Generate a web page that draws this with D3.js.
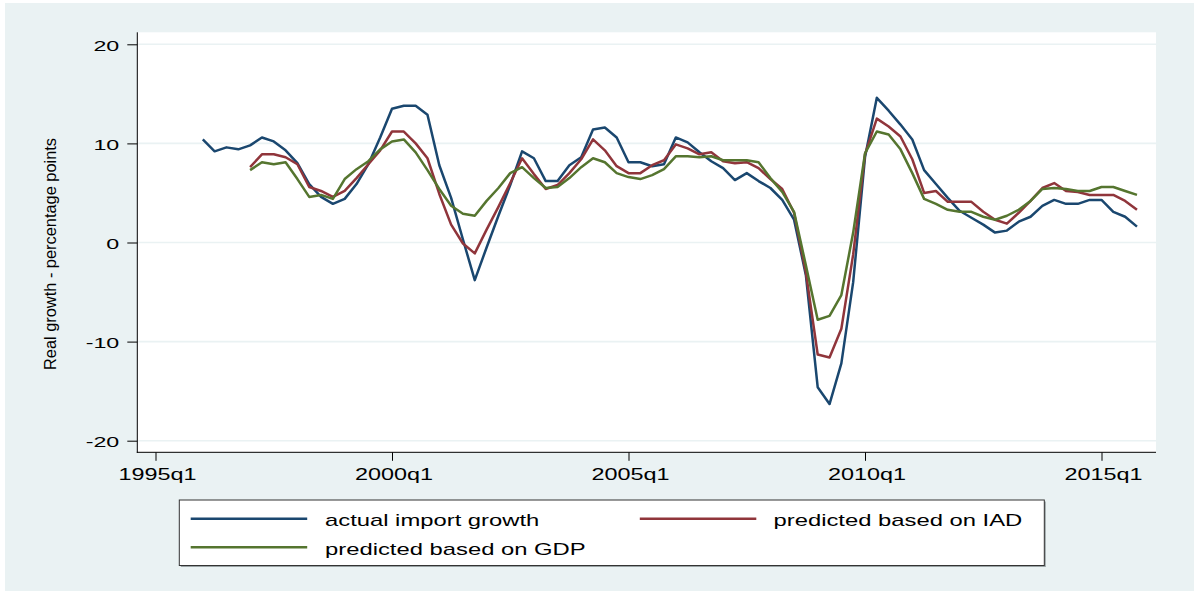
<!DOCTYPE html>
<html>
<head>
<meta charset="utf-8">
<script src="https://cdn.jsdelivr.net/npm/d3@7"></script>
<style>
  html, body { margin: 0; padding: 0; background: #ffffff; }
  svg { display: block; }
  text { font-family: "Liberation Sans", Arial, sans-serif; fill: #000; }
</style>
</head>
<body>
<svg id="chart" width="1194" height="591"></svg>
<script>
// ---- data (quarter index 0 = 1995q1) ----
const actualStart = 4;   // 1996q1
const predStart = 8;     // 1997q1
const actualImportGrowth = [
  10.4, 9.2, 9.6, 9.4,
  9.8, 10.6, 10.2, 9.3,
  8.0, 5.9, 4.6, 3.9,
  4.4, 5.9, 7.9, 10.6,
  13.5, 13.8, 13.8, 12.9,
  7.8, 4.5, 0.3, -3.8,
  -0.5, 2.7, 5.8, 9.2,
  8.5, 6.2, 6.2, 7.8,
  8.6, 11.4, 11.6, 10.6,
  8.1, 8.1, 7.7, 7.9,
  10.6, 10.1, 9.1, 8.2,
  7.5, 6.3, 7.0, 6.2,
  5.5, 4.3, 2.3, -3.3,
  -14.6, -16.3, -12.2, -4.0,
  8.6, 14.6, 13.3, 11.9,
  10.4, 7.3, 5.9, 4.5,
  3.2, 2.5, 1.8, 1.0,
  1.2, 2.1, 2.6, 3.7,
  4.3, 3.9, 3.9, 4.3,
  4.3, 3.1, 2.6, 1.6
];
const predictedIAD = [
  7.6, 8.9, 8.9, 8.6,
  7.9, 5.6, 5.2, 4.6,
  5.2, 6.5, 7.9, 9.3,
  11.2, 11.2, 10.0, 8.5,
  4.9, 1.8, -0.1, -1.1,
  1.3, 3.6, 6.0, 8.5,
  6.9, 5.4, 5.8, 7.0,
  8.4, 10.4, 9.3, 7.7,
  7.0, 7.0, 7.8, 8.3,
  9.9, 9.5, 8.9, 9.1,
  8.2, 8.0, 8.1, 7.5,
  6.4, 5.4, 3.0, -3.0,
  -11.3, -11.6, -8.7, -1.2,
  8.9, 12.5, 11.7, 10.7,
  8.4, 5.0, 5.2, 4.1,
  4.1, 4.1, 3.1, 2.3,
  1.9, 3.0, 4.2, 5.5,
  6.0, 5.2, 5.1, 4.8,
  4.8, 4.8, 4.2, 3.3
];
const predictedGDP = [
  7.3, 8.1, 7.9, 8.1,
  6.4, 4.6, 4.8, 4.4,
  6.4, 7.4, 8.2, 9.4,
  10.2, 10.4, 9.1, 7.3,
  5.4, 3.7, 2.9, 2.7,
  4.2, 5.5, 7.0, 7.6,
  6.5, 5.5, 5.6, 6.5,
  7.6, 8.5, 8.1, 7.0,
  6.6, 6.4, 6.8, 7.4,
  8.7, 8.7, 8.6, 8.7,
  8.3, 8.3, 8.3, 8.1,
  6.5, 5.1, 3.1, -2.3,
  -7.8, -7.4, -5.3, 1.0,
  9.0, 11.2, 10.9, 9.4,
  7.0, 4.4, 3.9, 3.3,
  3.1, 3.1, 2.6, 2.3,
  2.7, 3.3, 4.2, 5.4,
  5.5, 5.4, 5.2, 5.2,
  5.6, 5.6, 5.2, 4.8
];
const xTickValues = [0, 20, 40, 60, 80];
const xTickLabels = ["1995q1", "2000q1", "2005q1", "2010q1", "2015q1"];
const yTickValues = [-20, -10, 0, 10, 20];
const yTickLabels = ["-20", "-10", "0", "10", "20"];
const seriesNames = ["actual import growth", "predicted based on IAD", "predicted based on GDP"];
const seriesColors = ["#1a476f", "#90353b", "#55752f"];

// ---- layout ----
const W = 1194, H = 591;
const plot = { left: 137.3, right: 1156, top: 32.3, bottom: 452.3 };
const svg = d3.select("#chart");

svg.append("rect").attr("x", 5).attr("y", 3).attr("width", W - 5).attr("height", H - 3)
  .attr("fill", "#eaf2f3");
svg.append("rect").attr("x", plot.left).attr("y", plot.top)
  .attr("width", plot.right - plot.left).attr("height", plot.bottom - plot.top)
  .attr("fill", "#ffffff");

const x = d3.scaleLinear().domain([0, 80]).range([155.5, 1101.5]);
const y = d3.scaleLinear().domain([-20, 20]).range([440.7, 44.3]);

// gridlines
svg.append("g").selectAll("line").data(yTickValues).join("line")
  .attr("x1", plot.left + 1).attr("x2", plot.right)
  .attr("y1", d => y(d)).attr("y2", d => y(d))
  .attr("stroke", "#eaf2f3").attr("stroke-width", 1.6);

// series
function toPoints(arr, start) { return arr.map((v, i) => ({ q: start + i, v })); }
const series = [
  toPoints(actualImportGrowth, actualStart),
  toPoints(predictedIAD, predStart),
  toPoints(predictedGDP, predStart)
];
const line = d3.line().x(d => x(d.q)).y(d => y(d.v));
[0, 1, 2].forEach(i => {
  svg.append("path").datum(series[i])
    .attr("d", line).attr("fill", "none")
    .attr("stroke", seriesColors[i]).attr("stroke-width", 2.5)
    .attr("stroke-linejoin", "round");
});

// axes
const yAxis = d3.axisLeft(y).tickValues(yTickValues).tickSize(10).tickPadding(8)
  .tickFormat((d, i) => yTickLabels[i]);
const gy = svg.append("g").attr("transform", `translate(${plot.left},0)`).call(yAxis);
gy.select(".domain").remove();
gy.append("line").attr("x1", 0).attr("x2", 0).attr("y1", plot.top).attr("y2", plot.bottom + 0.5)
  .attr("stroke", "#000").attr("stroke-width", 1);
gy.selectAll(".tick line").attr("stroke", "#000");
gy.selectAll(".tick text").attr("font-size", 15.5).attr("fill", "#000")
  .attr("dy", null).attr("y", 6).attr("x", -18)
  .style("font-family", '"Liberation Sans", Arial, sans-serif')
  .each(function () {
    const n = this.getComputedTextLength();
    d3.select(this).attr("textLength", n * 1.5).attr("lengthAdjust", "spacingAndGlyphs");
  });

const xAxis = d3.axisBottom(x).tickValues(xTickValues).tickSize(8.5).tickPadding(0)
  .tickFormat((d, i) => xTickLabels[i]);
const gx = svg.append("g").attr("transform", `translate(0,${plot.bottom})`).call(xAxis);
gx.select(".domain").remove();
gx.append("line").attr("x1", plot.left - 0.5).attr("x2", plot.right).attr("y1", 0).attr("y2", 0)
  .attr("stroke", "#000").attr("stroke-width", 1);
gx.selectAll(".tick line").attr("stroke", "#000");
gx.selectAll(".tick text").attr("font-size", 16).attr("fill", "#000")
  .attr("dy", null).attr("y", 27.7).attr("x", 1.5)
  .style("font-family", '"Liberation Sans", Arial, sans-serif')
  .attr("textLength", 78).attr("lengthAdjust", "spacingAndGlyphs");

// y axis title
svg.append("text")
  .attr("transform", "translate(56,254) rotate(-90)")
  .attr("text-anchor", "middle")
  .attr("font-size", 17)
  .attr("textLength", 232).attr("lengthAdjust", "spacingAndGlyphs")
  .text("Real growth - percentage points");

// legend
const leg = { left: 179.3, right: 1044.3, top: 500, bottom: 565.5 };
svg.append("rect").attr("x", leg.left + 1.5).attr("y", leg.top + 1.5)
  .attr("width", leg.right - leg.left).attr("height", leg.bottom - leg.top)
  .attr("fill", "#9aa3a5");
svg.append("rect").attr("x", leg.left).attr("y", leg.top)
  .attr("width", leg.right - leg.left).attr("height", leg.bottom - leg.top)
  .attr("fill", "#ffffff").attr("stroke", "#333").attr("stroke-width", 1);

const legItems = [
  { i: 0, lx: 190.7, tx: 325, row: 0 },
  { i: 1, lx: 639.8, tx: 773.5, row: 0 },
  { i: 2, lx: 190.7, tx: 325, row: 1 }
];
const rowY = [518.7, 547.3];
legItems.forEach(it => {
  const yy = rowY[it.row];
  svg.append("line").attr("x1", it.lx).attr("x2", it.lx + 116.5)
    .attr("y1", yy).attr("y2", yy)
    .attr("stroke", seriesColors[it.i]).attr("stroke-width", 2.5);
  const t = svg.append("text").attr("x", it.tx).attr("y", yy + 7.5)
    .attr("font-size", 17).text(seriesNames[it.i]);
  const n = t.node().getComputedTextLength();
  t.attr("textLength", n * 1.4).attr("lengthAdjust", "spacingAndGlyphs");
});
</script>
</body>
</html>
